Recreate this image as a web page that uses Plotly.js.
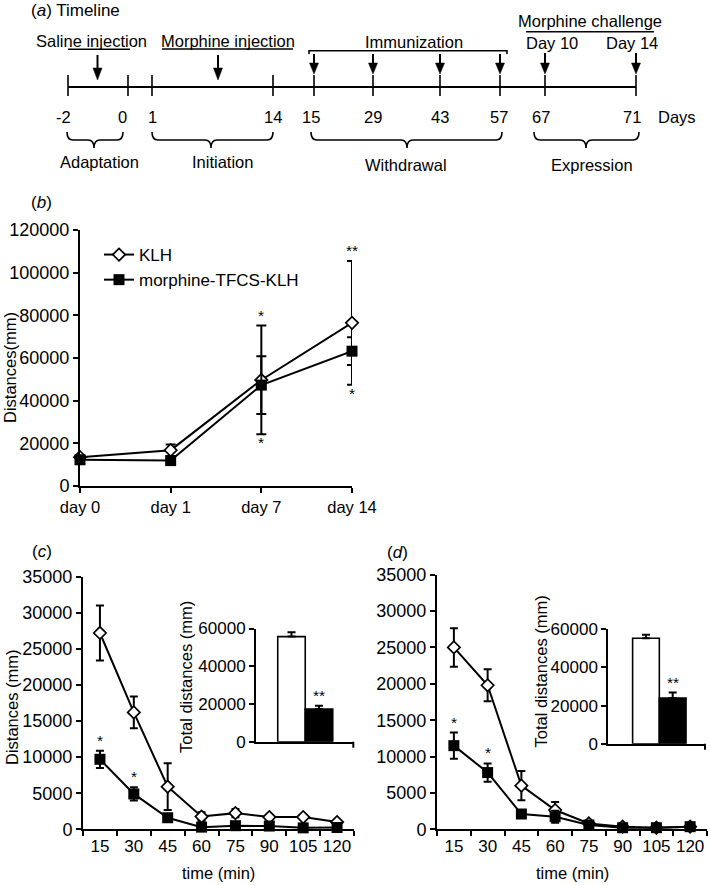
<!DOCTYPE html>
<html><head><meta charset="utf-8">
<script src="https://cdn.plot.ly/plotly-3.0.1.min.js"></script>
<style>body{margin:0;padding:0;background:#fff}#chart{width:710px;height:885px}</style>
</head><body><div id="chart"></div>
<script>
// ---------------- data ----------------
// (a) timeline
const timelineDays = ['-2','0','1','14','15','29','43','57','67','71'];
const phaseNames = ['Adaptation','Initiation','Withdrawal','Expression'];
const treatmentNames = ['Saline injection','Morphine injection','Immunization','Morphine challenge'];
const challengeDays = ['Day 10','Day 14'];

// (b)
const bDays = ['day 0','day 1','day 7','day 14'];
const bKLH = [13500, 16800, 49700, 76500];
const bKLHerr = [800, 2700, 25500, 29000];
const bMor = [12300, 11900, 47300, 63200];
const bMorErr = [600, 500, 13500, 6500];
const bStarsUp = ['', '', '*', '**'];
const bStarsDown = ['', '', '*', '*'];

// (c) and (d)
const timeMin = ['15','30','45','60','75','90','105','120'];
const groups = ['KLH','morphine-TFCS-KLH'];

const cKLH = [27200, 16200, 5900, 1770, 2240, 1690, 1690, 1000];
const cKLHerr = [3800, 2200, 3240, 600, 560, 150, 150, 100];
const cMor = [9700, 4900, 1600, 300, 500, 450, 200, 250];
const cMorErr = [1200, 920, 0, 0, 0, 0, 0, 0];
const cStars = ['*','*','','','','','',''];
const cTotal = [55700, 17300];
const cTotalErr = [2300, 1800];
const cTotalStars = ['', '**'];

const dKLH = [25000, 19800, 6000, 2650, 800, 360, 220, 360];
const dKLHerr = [2650, 2200, 2000, 1100, 0, 0, 0, 0];
const dMor = [11500, 7800, 2100, 1730, 590, 220, 220, 360];
const dMorErr = [1800, 1250, 0, 830, 0, 0, 0, 0];
const dStars = ['*','*','','','','','',''];
const dTotal = [55300, 24000];
const dTotalErr = [1900, 2800];
const dTotalStars = ['', '**'];

// ---------------- layout helpers ----------------
const W = 710, H = 885;
const X = x => x / W;
const Y = y => 1 - y / H;
const FONT = 'Liberation Sans, Arial, Helvetica, sans-serif';
const BLACK = '#000';

function axis(extra) {
  return Object.assign({
    showline: true, linecolor: BLACK, linewidth: 2,
    ticks: 'outside', ticklen: 5, tickwidth: 2, tickcolor: BLACK,
    showgrid: false, zeroline: false, fixedrange: true, tickangle: 0,
    tickfont: {family: FONT, size: 18, color: BLACK}
  }, extra);
}

function lineTrace(x, y, err, xa, ya, kind, name, capw, showlegend) {
  const open = kind === 'open';
  return {
    type: 'scatter', mode: 'lines+markers', x: x, y: y, name: name,
    xaxis: xa, yaxis: ya, cliponaxis: false, showlegend: showlegend,
    line: {color: BLACK, width: 2},
    marker: open
      ? {symbol: 'diamond', size: 9.5, color: '#fff', line: {color: BLACK, width: 1.7}}
      : {symbol: 'square', size: 11, color: BLACK, line: {color: BLACK, width: 0}},
    error_y: {type: 'data', array: err, visible: true, color: BLACK, thickness: 2, width: capw}
  };
}

function barTrace(y, err, xa, ya) {
  return {
    type: 'bar', x: groups, y: y, width: 1, xaxis: xa, yaxis: ya, showlegend: false,
    cliponaxis: false,
    marker: {color: ['#fff', BLACK], line: {color: BLACK, width: 1.6}},
    error_y: {type: 'data', symmetric: false, array: err, arrayminus: [0, 0],
              color: BLACK, thickness: 2, width: 4}
  };
}

const traces = [
  lineTrace(bDays, bKLH, bKLHerr, 'x', 'y', 'open', 'KLH', 5, true),
  lineTrace(bDays, bMor, bMorErr, 'x', 'y', 'filled', 'morphine-TFCS-KLH', 5, true),
  lineTrace(timeMin, cKLH, cKLHerr, 'x3', 'y3', 'open', 'KLH', 4, false),
  lineTrace(timeMin, cMor, cMorErr, 'x3', 'y3', 'filled', 'morphine-TFCS-KLH', 4, false),
  barTrace(cTotal, cTotalErr, 'x4', 'y4'),
  lineTrace(timeMin, dKLH, dKLHerr, 'x5', 'y5', 'open', 'KLH', 4, false),
  lineTrace(timeMin, dMor, dMorErr, 'x5', 'y5', 'filled', 'morphine-TFCS-KLH', 4, false),
  barTrace(dTotal, dTotalErr, 'x6', 'y6')
];

// ---------------- annotations ----------------
const ann = [];
function txt(text, x, y, opts) {
  ann.push(Object.assign({
    text: text, x: X(x), y: Y(y), xref: 'paper', yref: 'paper',
    xanchor: 'center', yanchor: 'middle', showarrow: false,
    font: {family: FONT, size: 16.5, color: BLACK}
  }, opts || {}));
}
function star(text, x, y, xr, yr, up) {
  if (!text) return;
  ann.push({text: text, x: x, y: y, xref: xr, yref: yr, showarrow: false,
    xanchor: 'center', yanchor: up ? 'bottom' : 'top', yshift: up ? 0 : 2,
    font: {family: FONT, size: 15.5, color: BLACK}});
}

// panel (a) texts
txt('(<i>a</i>) Timeline', 29, 11, {xanchor: 'left', font: {family: FONT, size: 17, color: BLACK}});
const treatPos = [[91.7, 41], [228, 41], [414, 42], [590, 21]];
treatmentNames.forEach((t, i) => txt(t, treatPos[i][0], treatPos[i][1]));
const chPos = [552, 632];
challengeDays.forEach((t, i) => txt(t, chPos[i], 43));
const tickX = [68, 128, 152, 273, 314, 373, 440, 500, 545, 636];
const tickLabelX = [63, 122, 152, 273, 311, 373, 440, 499, 541, 632];
timelineDays.forEach((t, i) => txt(t, tickLabelX[i], 117));
txt('Days', 677, 117);
const phasePos = [[99, 162], [222, 162], [406, 165], [592, 165]];
phaseNames.forEach((t, i) => txt(t, phasePos[i][0], phasePos[i][1]));

// panel letters and axis titles
txt('(<i>b</i>)', 41, 202, {font: {family: FONT, size: 17, color: BLACK}});
txt('(<i>c</i>)', 42, 551, {font: {family: FONT, size: 17, color: BLACK}});
txt('(<i>d</i>)', 397, 552, {font: {family: FONT, size: 17, color: BLACK}});
txt('Distances(mm)', 10, 368, {textangle: -90});
txt('Distances (mm)', 12, 707, {textangle: -90});
txt('Total distances (mm)', 186, 677, {textangle: -90});
txt('Total distances (mm)', 540.5, 672, {textangle: -90});
txt('time (min)', 219, 873);
txt('time (min)', 572, 873);

// significance stars (category axes addressed by index)
bDays.forEach((d, i) => {
  star(bStarsUp[i], i, bKLH[i] + bKLHerr[i], 'x', 'y', true);
  star(bStarsDown[i], i, bKLH[i] - bKLHerr[i], 'x', 'y', false);
});
timeMin.forEach((t, i) => {
  star(cStars[i], i, cMor[i] + cMorErr[i], 'x3', 'y3', true);
  star(dStars[i], i, dMor[i] + dMorErr[i], 'x5', 'y5', true);
});
groups.forEach((g, i) => {
  star(cTotalStars[i], i, cTotal[i] + cTotalErr[i], 'x4', 'y4', true);
  star(dTotalStars[i], i, dTotal[i] + dTotalErr[i], 'x6', 'y6', true);
});

// ---------------- shapes for the timeline ----------------
const shapes = [];
function seg(x1, y1, x2, y2, w) {
  shapes.push({type: 'line', xref: 'paper', yref: 'paper', x0: X(x1), y0: Y(y1), x1: X(x2), y1: Y(y2),
    line: {color: BLACK, width: w || 2}});
}
function pathShape(pts, fill) {
  shapes.push({type: 'path', xref: 'paper', yref: 'paper', path: pts,
    fillcolor: fill ? BLACK : 'rgba(0,0,0,0)', line: {color: BLACK, width: fill ? 0.5 : 1.6}});
}
function P(x, y) { return X(x) + ',' + Y(y); }
function arrow(x, yTop, yTip, headH) {
  seg(x, yTop, x, yTip - headH + 1, 2);
  pathShape('M' + P(x - 4.5, yTip - headH) + ' L' + P(x + 4.5, yTip - headH) + ' L' + P(x, yTip) + ' Z', true);
}
function brace(x1, x2, tip) {
  const yT = 132, yM = 140, yB = 148, r = 6;
  pathShape('M' + P(x1, yT) + ' Q' + P(x1, yM) + ' ' + P(x1 + r, yM) +
    ' L' + P(tip - r, yM) + ' Q' + P(tip, yM) + ' ' + P(tip, yB) +
    ' Q' + P(tip, yM) + ' ' + P(tip + r, yM) +
    ' L' + P(x2 - r, yM) + ' Q' + P(x2, yM) + ' ' + P(x2, yT), false);
}

// main line and ticks
seg(68, 87, 636, 87, 2.2);
tickX.forEach(x => seg(x, 75, x, 96, 1.6));
// arrows
arrow(97.5, 55, 80, 12);
arrow(218, 55, 80, 12);
[314, 373, 440, 500].forEach(x => arrow(x, 54, 74, 11));
[545, 636].forEach(x => arrow(x, 53, 74, 11));
// treatment bars
seg(68, 49.3, 130, 49.3, 1.6);
seg(162, 49, 293, 49, 1.6);
seg(309, 50.7, 507, 50.7, 1.6);
seg(309, 50, 309, 54, 1.6);
seg(507, 50, 507, 54, 1.6);
seg(526, 31.7, 654, 31.7, 1.6);
// braces
brace(67, 123, 94);
brace(152, 273, 211);
brace(311, 502, 407);
brace(534, 639, 586);
// end ticks on the inset x axes
[['x4 domain', 741.7], ['x6 domain', 743.7]].forEach(([xr, yb]) => {
  shapes.push({type: 'line', xref: xr, yref: 'paper', x0: 1, x1: 1, y0: Y(yb), y1: Y(yb + 6),
    line: {color: BLACK, width: 2}});
});

// ---------------- layout ----------------
const layout = {
  width: W, height: H, margin: {l: 0, r: 0, t: 0, b: 0},
  paper_bgcolor: '#fff', plot_bgcolor: 'rgba(0,0,0,0)',
  font: {family: FONT, size: 17, color: BLACK},
  showlegend: true,
  legend: {x: X(99), y: Y(237), xanchor: 'left', yanchor: 'top', bgcolor: 'rgba(0,0,0,0)',
           font: {family: FONT, size: 17, color: BLACK}},
  bargap: 0,
  xaxis: axis({anchor: 'y', domain: [X(80), X(352)], type: 'category', range: [0, 3],
               tickfont: {family: FONT, size: 16.5, color: BLACK}}),
  yaxis: axis({anchor: 'x', domain: [Y(486), Y(230)], range: [0, 120000], dtick: 20000, tickformat: 'd'}),
  xaxis3: axis({anchor: 'y3', domain: [X(83), X(354)], type: 'category', range: [-0.5, 7.5], tickson: 'boundaries',
                tickfont: {family: FONT, size: 17, color: BLACK}}),
  yaxis3: axis({anchor: 'x3', domain: [Y(829.3), Y(576.7)], range: [0, 35000], dtick: 5000, tickformat: 'd'}),
  xaxis4: axis({anchor: 'y4', domain: [X(256), X(353.3)], type: 'category', range: [-1.29, 2.247],
                ticks: '', showticklabels: false}),
  yaxis4: axis({anchor: 'x4', domain: [Y(741.7), Y(628.5)], range: [0, 60000], dtick: 20000, tickformat: 'd',
                tickfont: {family: FONT, size: 17, color: BLACK}}),
  xaxis5: axis({anchor: 'y5', domain: [X(437), X(707)], type: 'category', range: [-0.5, 7.5], tickson: 'boundaries',
                tickfont: {family: FONT, size: 17, color: BLACK}}),
  yaxis5: axis({anchor: 'x5', domain: [Y(829.3), Y(574.7)], range: [0, 35000], dtick: 5000, tickformat: 'd'}),
  xaxis6: axis({anchor: 'y6', domain: [X(608.3), X(705)], type: 'category', range: [-1.41, 2.21],
                ticks: '', showticklabels: false}),
  yaxis6: axis({anchor: 'x6', domain: [Y(743.7), Y(629.3)], range: [0, 60000], dtick: 20000, tickformat: 'd',
                tickfont: {family: FONT, size: 17, color: BLACK}}),
  annotations: ann,
  shapes: shapes
};

Plotly.newPlot('chart', traces, layout, {staticPlot: true, displayModeBar: false});
</script>
</body></html>
